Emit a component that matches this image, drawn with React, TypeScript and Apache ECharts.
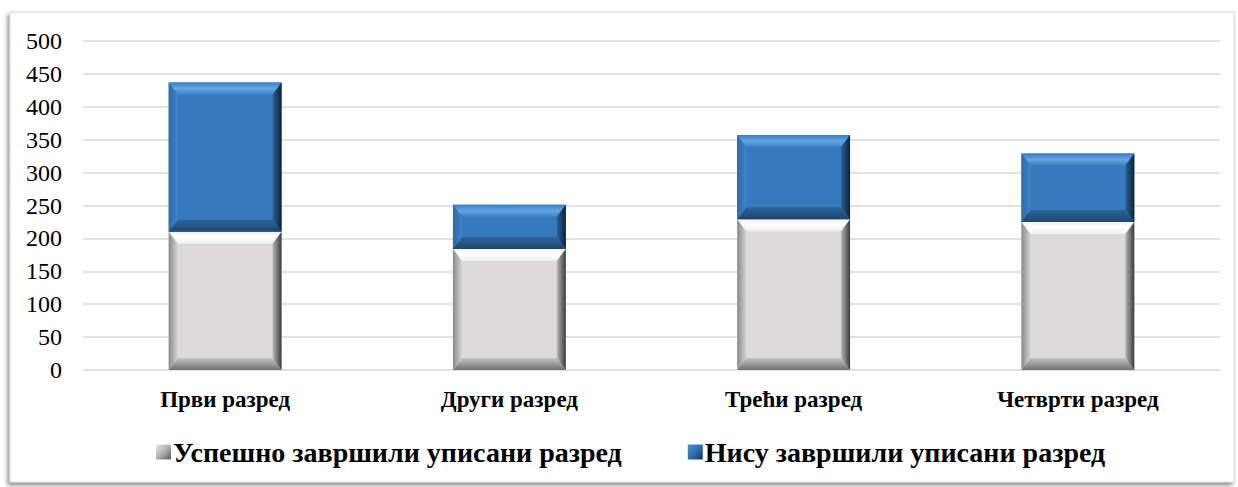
import React, { useEffect, useRef } from "react";
import * as echarts from "echarts";

const categories = ["Први разред", "Други разред", "Трећи разред", "Четврти разред"];
const seriesNames = ["Успешно завршили уписани разред", "Нису завршили уписани разред"];
const completed = [210, 184, 229, 225];
const notCompleted = [227, 67, 128, 104];
const yTicks = { min: 0, max: 500, interval: 50 };

const FONT = "Liberation Serif";

const lin = (x2: number, y2: number, stops: [number, string][]) => ({
  type: "linear",
  x: 0,
  y: 0,
  x2,
  y2,
  colorStops: stops.map(([offset, color]) => ({ offset, color })),
});

const palettes = [
  {
    face: "#dcdadb",
    top: lin(0, 1, [[0, "#f2f2f2"], [0.4, "#ffffff"], [1, "#f0f0f0"]]),
    bottom: lin(0, 1, [[0, "#c4c4c4"], [1, "#707070"]]),
    left: lin(1, 0, [[0, "#8a8a8a"], [1, "#d4d4d4"]]),
    right: lin(1, 0, [[0, "#b8b8b8"], [1, "#3a3a3a"]]),
  },
  {
    face: "#3779bd",
    top: lin(0, 1, [[0, "#3a7fc3"], [0.5, "#63a5e2"], [1, "#3c82c6"]]),
    bottom: lin(0, 1, [[0, "#2d659d"], [1, "#1c456f"]]),
    left: lin(1, 0, [[0, "#2e6aa7"], [1, "#3d84c8"]]),
    right: lin(1, 0, [[0, "#2c6299"], [1, "#0c2238"]]),
  },
];

function makeRenderItem(pal: any) {
  return (params: any, api: any) => {
    const x = api.value(0);
    const y0 = api.value(1);
    const y1 = api.value(2);
    const pB = api.coord([x, y0]);
    const pT = api.coord([x, y1]);
    const bw = api.size([1, 0])[0] * 0.397;
    const L = pB[0] - bw / 2;
    const R = L + bw;
    const T = pT[1];
    const B = pB[1];
    const h = B - T;
    const bx = Math.min(9, bw / 2);
    const by = Math.min(12, h / 2);
    return {
      type: "group",
      children: [
        { type: "rect", shape: { x: L, y: T, width: bw, height: h }, style: { fill: pal.face } },
        {
          type: "polygon",
          shape: { points: [[L, T], [R, T], [R - bx, T + by], [L + bx, T + by]] },
          style: { fill: pal.top },
        },
        {
          type: "polygon",
          shape: { points: [[L, B], [R, B], [R - bx, B - by], [L + bx, B - by]] },
          style: { fill: pal.bottom },
        },
        {
          type: "polygon",
          shape: { points: [[L, T], [L + bx, T + by], [L + bx, B - by], [L, B]] },
          style: { fill: pal.left },
        },
        {
          type: "polygon",
          shape: { points: [[R, T], [R - bx, T + by], [R - bx, B - by], [R, B]] },
          style: { fill: pal.right },
        },
      ],
    };
  };
}

export default function App() {
  const ref = useRef<HTMLDivElement>(null);
  useEffect(() => {
    if (!ref.current) return;
    const chart = echarts.init(ref.current, null, { renderer: "svg" });
    const grayData = completed.map((v, i) => [i, 0, v]);
    const blueData = notCompleted.map((v, i) => [i, completed[i], completed[i] + v]);
    chart.setOption({
      animation: false,
      backgroundColor: "#ffffff",
      graphic: [
        {
          type: "rect",
          z: -10,
          shape: { x: 10, y: 12, width: 1224, height: 470 },
          style: {
            fill: "#ffffff",
            stroke: "#d6d6d6",
            lineWidth: 1,
            shadowBlur: 4,
            shadowOffsetX: -2,
            shadowOffsetY: 3,
            shadowColor: "rgba(0,0,0,0.45)",
          },
        },
      ],
      grid: { left: 83, right: 18, top: 41, bottom: 117, containLabel: false },
      xAxis: {
        type: "category",
        data: categories,
        axisLine: { show: false },
        axisTick: { show: false },
        axisLabel: {
          color: "#000",
          fontFamily: FONT,
          fontWeight: "bold",
          fontSize: 23,
          margin: 18,
        },
      },
      yAxis: {
        type: "value",
        min: yTicks.min,
        max: yTicks.max,
        interval: yTicks.interval,
        axisLine: { show: false },
        axisTick: { show: false },
        splitLine: { lineStyle: { color: "#d9d9d9", width: 1.5 } },
        axisLabel: { color: "#000", fontFamily: FONT, fontSize: 24, margin: 21 },
      },
      legend: {
        left: 151,
        top: 433,
        itemGap: 66,
        itemWidth: 15,
        itemHeight: 15,
        icon: "rect",
        textStyle: { color: "#000", fontFamily: FONT, fontWeight: "bold", fontSize: 28, padding: [0, 0, 0, -3] },
        data: [
          { name: seriesNames[0], itemStyle: { color: lin(1, 1, [[0, "#e8e8e8"], [0.5, "#b0b0b0"], [1, "#5a5a5a"]]) } },
          { name: seriesNames[1], itemStyle: { color: lin(1, 1, [[0, "#4a8fd3"], [0.5, "#3070b0"], [1, "#12345a"]]) } },
        ],
      },
      series: [
        {
          type: "custom",
          name: seriesNames[0],
          renderItem: makeRenderItem(palettes[0]),
          encode: { x: 0, y: [1, 2] },
          itemStyle: { color: "#dcdadb" },
          data: grayData,
        },
        {
          type: "custom",
          name: seriesNames[1],
          renderItem: makeRenderItem(palettes[1]),
          encode: { x: 0, y: [1, 2] },
          itemStyle: { color: "#3779bd" },
          data: blueData,
        },
      ],
    });
    return () => chart.dispose();
  }, []);
  return (
    <div
      ref={ref}
      style={{ position: "fixed", left: 0, top: 0, width: 1238, height: 487 }}
    />
  );
}
